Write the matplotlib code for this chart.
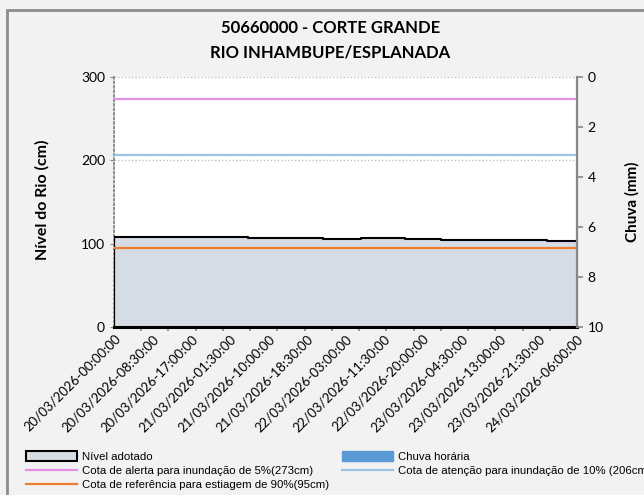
import matplotlib
matplotlib.use("Agg")
import matplotlib.pyplot as plt
from matplotlib.patches import Rectangle, Patch
from matplotlib.lines import Line2D

# hours since 20/03/2026 00:00 where the adopted level changes
level_hours = [0, 10, 29.5, 46, 54.5, 64, 72, 83.5, 95.5, 102]
level_cm = [108.5, 107.5, 106.5, 105.5, 106.5, 105.5, 104.5, 104, 103, 103]

rain_hours = [0, 6, 12, 18, 24, 30, 36, 42, 48, 54, 60, 66, 72, 78, 84, 90, 96, 102]
rain_mm = [0, 0, 0, 0, 0, 0, 0, 0, 0, 0, 0, 0, 0, 0, 0, 0, 0, 0]

label_hours = [0, 8.5, 17, 25.5, 34, 42.5, 51, 59.5, 68, 76.5, 85, 93.5, 102]
tick_labels = [
    "20/03/2026-00:00:00", "20/03/2026-08:30:00", "20/03/2026-17:00:00",
    "21/03/2026-01:30:00", "21/03/2026-10:00:00", "21/03/2026-18:30:00",
    "22/03/2026-03:00:00", "22/03/2026-11:30:00", "22/03/2026-20:00:00",
    "23/03/2026-04:30:00", "23/03/2026-13:00:00", "23/03/2026-21:30:00",
    "24/03/2026-06:00:00",
]

cota_alerta = 273
cota_atencao = 206
cota_estiagem = 95

FONT = "Lato"
GRAY = "#868686"

fig = plt.figure(figsize=(6.44, 4.95), dpi=100, facecolor="#f2f2f2")
fig.patches.append(Rectangle((7 / 644, -0.1), 1.0, 1 - 10 / 495 + 0.1,
                             transform=fig.transFigure, fill=False,
                             edgecolor="#8c8c8c", linewidth=2))

ax = fig.add_axes([114 / 644, 1 - 327 / 495, 463 / 644, 250 / 495])
ax.set_facecolor("white")

# adopted level area with black outline
ax.fill_between(level_hours, 0, level_cm, step="post", color="#d6dce4",
                linewidth=0, zorder=2)
ax.step(level_hours, level_cm, where="post", color="black", lw=1.5, zorder=4)
ax.plot([0, 0], [0, level_cm[0]], color="black", lw=1.6, zorder=4)
ax.plot([0, 102], [0, 0], color="black", lw=2.2, zorder=4, clip_on=False)

ax.axhline(cota_alerta, color="#e68fe6", lw=1.6, zorder=5)
ax.axhline(cota_atencao, color="#9dc3e6", lw=1.6, zorder=5)
ax.axhline(cota_estiagem, color="#ed7d31", lw=1.6, zorder=5)

ax.set_xlim(0, 102)
ax.set_ylim(0, 300)
ax.set_yticks([0, 100, 200, 300])
ax.yaxis.grid(True, linestyle=(0, (1, 1.5)), color="#bfbfbf", lw=1)
ax.set_axisbelow(True)

for side in ["top", "right", "bottom"]:
    ax.spines[side].set_visible(False)
ax.spines["left"].set_linestyle((0, (1, 1.5)))
ax.spines["left"].set_color(GRAY)
ax.spines["left"].set_linewidth(1.3)

ax.set_xticks(label_hours)
ax.set_xticklabels(tick_labels, rotation=45, ha="right", va="top",
                   rotation_mode="anchor", fontsize=9.5, family=FONT)
ax.set_xticks(rain_hours, minor=True)
ax.tick_params(axis="x", which="major", length=0, pad=4)
ax.tick_params(axis="x", which="minor", length=3, color=GRAY, width=1.2)
ax.tick_params(axis="y", length=3, color=GRAY, labelsize=10)
for lab in ax.get_yticklabels():
    lab.set_family(FONT)

ax2 = ax.twinx()
ax2.bar(rain_hours, rain_mm, width=0.8, color="#5b9bd5", zorder=3)
ax2.set_ylim(10, 0)
ax2.set_yticks([0, 2, 4, 6, 8, 10])
for side in ["top", "left", "bottom"]:
    ax2.spines[side].set_visible(False)
ax2.spines["right"].set_color(GRAY)
ax2.spines["right"].set_linewidth(1.6)
ax2.spines["right"].set_zorder(6)
ax2.tick_params(axis="y", length=4, color=GRAY, width=1.2, labelsize=10)
for lab in ax2.get_yticklabels():
    lab.set_family(FONT)

fig.text(0.513, 1 - 28 / 495, "50660000 - CORTE GRANDE", ha="center",
         va="center", fontsize=12, fontweight="bold", family=FONT)
fig.text(0.513, 1 - 53 / 495, "RIO INHAMBUPE/ESPLANADA", ha="center",
         va="center", fontsize=12, fontweight="bold", family=FONT)
fig.text(42 / 644, 1 - 200 / 495, "Nível do Rio (cm)", rotation=90,
         ha="center", va="center", fontsize=11.5, fontweight="bold", family=FONT)
fig.text(632 / 644, 1 - 202 / 495, "Chuva (mm)", rotation=90,
         ha="center", va="center", fontsize=11, fontweight="bold", family=FONT)

handles = [
    Patch(facecolor="#d6dce4", edgecolor="black", linewidth=1.5),
    Patch(facecolor="#5b9bd5", edgecolor="#5b9bd5"),
    Line2D([], [], color="#e68fe6", lw=1.6),
    Line2D([], [], color="#9dc3e6", lw=1.6),
    Line2D([], [], color="#ed7d31", lw=1.6),
]
names = [
    "Nível adotado", "Chuva horária",
    "Cota de alerta para inundação de 5%(273cm)",
    "Cota de atenção para inundação de 10% (206cm)",
    "Cota de referência para estiagem de 90%(95cm)",
]
order = [0, 2, 4, 1, 3]
fig.legend([handles[i] for i in order], [names[i] for i in order],
           ncol=2, loc="upper left", bbox_to_anchor=(19 / 644, 1 - 444 / 495),
           frameon=False, handlelength=4.4, handleheight=0.9,
           handletextpad=0.45, columnspacing=1.2, labelspacing=0.3,
           borderpad=0.15,
           prop={"family": "Liberation Sans", "size": 8.2})

fig.savefig("out.png", dpi=100, facecolor=fig.get_facecolor())
